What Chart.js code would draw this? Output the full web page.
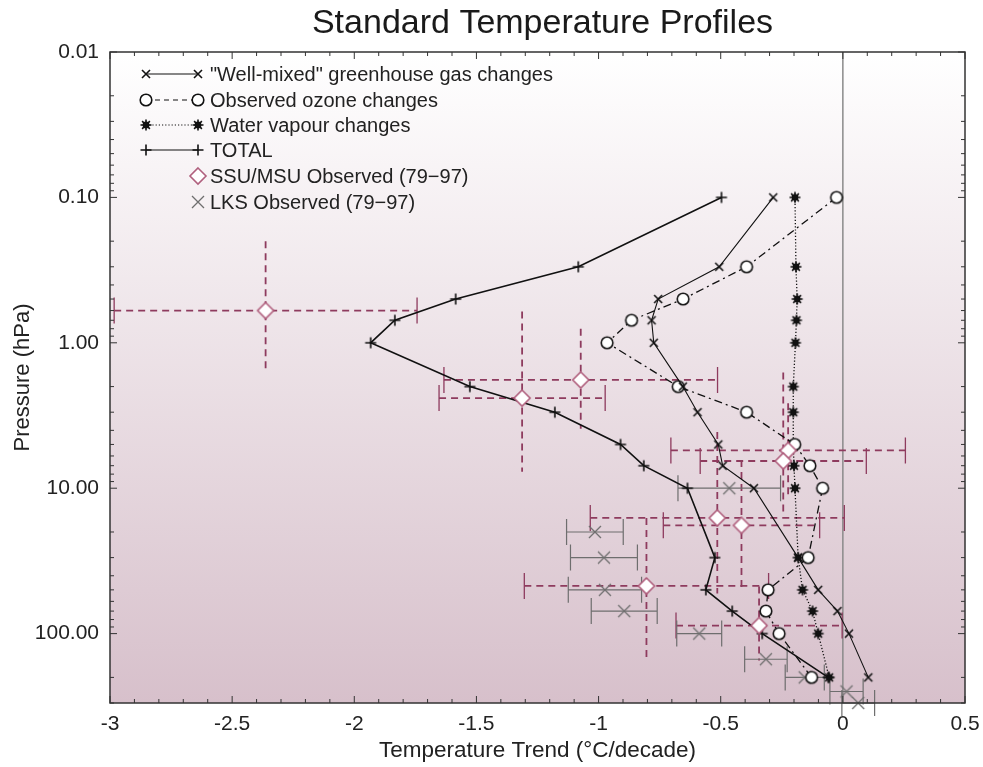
<!DOCTYPE html>
<html>
<head>
<meta charset="utf-8">
<script src="https://cdn.jsdelivr.net/npm/chart.js@4.4.1/dist/chart.umd.min.js"></script>
<style>
  html, body { margin: 0; padding: 0; background: #fff; }
  #wrap { width: 983px; height: 767px; }
</style>
</head>
<body>
<div id="wrap"><canvas id="profiles"></canvas></div>
<script>
// model levels (hPa) shared by the four model curves
const modelPress = [0.1, 0.3, 0.5, 0.7, 1, 2, 3, 5, 7, 10, 30, 50, 70, 100, 200];
const ghgTrend = [-0.285, -0.506, -0.756, -0.783, -0.774, -0.655, -0.595, -0.51, -0.492, -0.364, -0.183, -0.101, -0.022, 0.025, 0.104];
const ozoneTrend = [-0.026, -0.394, -0.654, -0.865, -0.965, -0.674, -0.394, -0.197, -0.135, -0.083, -0.142, -0.306, -0.315, -0.261, -0.128];
const vapourTrend = [-0.196, -0.192, -0.187, -0.19, -0.194, -0.203, -0.203, -0.203, -0.2, -0.196, -0.183, -0.165, -0.124, -0.101, -0.056];
const totalTrend = [-0.497, -1.083, -1.585, -1.834, -1.933, -1.527, -1.179, -0.91, -0.815, -0.636, -0.524, -0.561, -0.453, -0.33, -0.06];

// SSU/MSU observations with error ranges
const ssuPress = [0.6, 1.8, 2.4, 5.5, 6.5, 16, 18, 47, 88];
const ssuTrend = [-2.363, -1.073, -1.313, -0.224, -0.244, -0.514, -0.415, -0.804, -0.343];
const ssuTrendErr = [0.62, 0.56, 0.34, 0.48, 0.34, 0.52, 0.32, 0.5, 0.34];
const ssuPressLow = [0.2, 0.8, 0.61, 2.6, 1.6, 4.1, 6.4, 16, 47.5];
const ssuPressHigh = [1.6, 3.9, 7.7, 11.5, 15, 53, 50, 157, 153];

// LKS radiosonde observations
const lksPress = [10, 20, 30, 50, 70, 100, 150, 200, 250, 300];
const lksTrend = [-0.465, -1.015, -0.978, -0.974, -0.895, -0.588, -0.315, -0.156, 0.015, 0.063];
const lksTrendErr = [0.21, 0.116, 0.137, 0.15, 0.135, 0.092, 0.087, 0.08, 0.068, 0.067];

const xTicks = [-3, -2.5, -2, -1.5, -1, -0.5, 0, 0.5];
const yTicks = [0.01, 0.1, 1, 10, 100];

const FONT = '"Liberation Sans", Arial, Helvetica, sans-serif';
const SSU_COLOR = '#8e3b5e';
const LKS_COLOR = '#6e6e6e';

const pts = (xs, ys) => xs.map((x, i) => ({x: x, y: ys[i]}));

// little canvases used as point styles (and again in the legend)
function marker(kind) {
  const c = document.createElement('canvas');
  c.width = 22; c.height = 22;
  const g = c.getContext('2d');
  const m = 11;
  switch (kind) {
    case 'x':
      g.strokeStyle = '#111'; g.lineWidth = 1.6;
      g.beginPath();
      g.moveTo(m - 4, m - 4); g.lineTo(m + 4, m + 4);
      g.moveTo(m + 4, m - 4); g.lineTo(m - 4, m + 4);
      g.stroke();
      break;
    case 'o':
      g.fillStyle = '#fff'; g.strokeStyle = '#111'; g.lineWidth = 1.6;
      g.beginPath(); g.arc(m, m, 5.8, 0, Math.PI * 2); g.fill(); g.stroke();
      break;
    case 'star':
      g.fillStyle = '#111'; g.strokeStyle = '#111'; g.lineWidth = 1.6;
      g.beginPath(); g.arc(m, m, 3.4, 0, Math.PI * 2); g.fill();
      g.beginPath();
      for (let k = 0; k < 8; k++) {
        const a = k * Math.PI / 4;
        g.moveTo(m, m); g.lineTo(m + 5.5 * Math.cos(a), m + 5.5 * Math.sin(a));
      }
      g.stroke();
      break;
    case '+':
      g.strokeStyle = '#111'; g.lineWidth = 1.6;
      g.beginPath();
      g.moveTo(m - 5.5, m); g.lineTo(m + 5.5, m);
      g.moveTo(m, m - 5.5); g.lineTo(m, m + 5.5);
      g.stroke();
      break;
    case 'diamond':
      g.fillStyle = '#fff'; g.strokeStyle = '#b0607e'; g.lineWidth = 1.6;
      g.beginPath();
      g.moveTo(m, m - 8); g.lineTo(m + 8, m); g.lineTo(m, m + 8); g.lineTo(m - 8, m); g.closePath();
      g.fill(); g.stroke();
      break;
    case 'X':
      g.strokeStyle = LKS_COLOR; g.lineWidth = 1.3;
      g.beginPath();
      g.moveTo(m - 6, m - 6); g.lineTo(m + 6, m + 6);
      g.moveTo(m + 6, m - 6); g.lineTo(m - 6, m + 6);
      g.stroke();
      break;
  }
  return c;
}

const mk = {
  x: marker('x'), o: marker('o'), star: marker('star'),
  plus: marker('+'), diamond: marker('diamond'), X: marker('X')
};

// pink-ish fade inside the frame
const backdrop = {
  id: 'backdrop',
  beforeDraw(chart) {
    const {ctx, chartArea: a} = chart;
    const grad = ctx.createLinearGradient(0, a.top, 0, a.bottom);
    grad.addColorStop(0, '#ffffff');
    grad.addColorStop(1, '#d7c0cb');
    ctx.save();
    ctx.fillStyle = grad;
    ctx.fillRect(a.left, a.top, a.right - a.left, a.bottom - a.top);
    ctx.restore();
  }
};

// zero line + error bars, under the markers
const errorBars = {
  id: 'errorBars',
  beforeDatasetsDraw(chart) {
    const {ctx, chartArea: a, scales: {x, y}} = chart;
    ctx.save();
    ctx.strokeStyle = '#8a8a8a';
    ctx.lineWidth = 1.5;
    ctx.beginPath();
    ctx.moveTo(x.getPixelForValue(0), a.top);
    ctx.lineTo(x.getPixelForValue(0), a.bottom);
    ctx.stroke();

    // SSU/MSU, dashed both ways
    ctx.strokeStyle = SSU_COLOR;
    ssuTrend.forEach((t, i) => {
      const py = y.getPixelForValue(ssuPress[i]);
      const px = x.getPixelForValue(t);
      const x0 = x.getPixelForValue(t - ssuTrendErr[i]);
      const x1 = x.getPixelForValue(t + ssuTrendErr[i]);
      ctx.lineWidth = 1.8;
      ctx.setLineDash([7, 5]);
      ctx.beginPath();
      ctx.moveTo(x0, py); ctx.lineTo(x1, py);
      ctx.moveTo(px, y.getPixelForValue(ssuPressLow[i]));
      ctx.lineTo(px, y.getPixelForValue(ssuPressHigh[i]));
      ctx.stroke();
      ctx.setLineDash([]);
      ctx.lineWidth = 1.3;
      ctx.beginPath();
      ctx.moveTo(x0, py - 13); ctx.lineTo(x0, py + 13);
      ctx.moveTo(x1, py - 13); ctx.lineTo(x1, py + 13);
      ctx.stroke();
    });

    // LKS, solid horizontal bars
    ctx.strokeStyle = LKS_COLOR;
    ctx.lineWidth = 1.2;
    lksTrend.forEach((t, i) => {
      const py = y.getPixelForValue(lksPress[i]);
      const x0 = x.getPixelForValue(t - lksTrendErr[i]);
      const x1 = x.getPixelForValue(t + lksTrendErr[i]);
      ctx.beginPath();
      ctx.moveTo(x0, py); ctx.lineTo(x1, py);
      ctx.moveTo(x0, py - 13); ctx.lineTo(x0, py + 13);
      ctx.moveTo(x1, py - 13); ctx.lineTo(x1, py + 13);
      ctx.stroke();
    });
    ctx.restore();
  }
};

// title, frame, inward minor ticks and the legend box
const frameAndLegend = {
  id: 'frameAndLegend',
  afterDraw(chart) {
    const {ctx, chartArea: a, scales: {x, y}} = chart;
    ctx.save();
    ctx.fillStyle = '#1a1a1a';
    ctx.font = '34px ' + FONT;
    ctx.textAlign = 'center';
    ctx.textBaseline = 'middle';
    ctx.fillText('Standard Temperature Profiles', (a.left + a.right) / 2 + 5, 24);

    ctx.strokeStyle = '#333';
    ctx.lineWidth = 1.5;
    ctx.strokeRect(a.left, a.top, a.right - a.left, a.bottom - a.top);

    ctx.lineWidth = 1;
    ctx.beginPath();
    for (let k = -30; k <= 5; k++) {
      const px = x.getPixelForValue(k / 10);
      const len = k % 5 === 0 ? 7 : 4;
      ctx.moveTo(px, a.top); ctx.lineTo(px, a.top + len);
      ctx.moveTo(px, a.bottom); ctx.lineTo(px, a.bottom - len);
    }
    for (let d = -2; d <= 2; d++) {
      for (let m = 1; m <= 9; m++) {
        const v = m * Math.pow(10, d);
        if (v > 300) continue;
        const py = y.getPixelForValue(v);
        const len = m === 1 ? 7 : 4;
        ctx.moveTo(a.left, py); ctx.lineTo(a.left + len, py);
        ctx.moveTo(a.right, py); ctx.lineTo(a.right - len, py);
      }
    }
    ctx.stroke();

    // legend
    const rows = [
      {y: 74, img: mk.x, dash: [], text: '"Well-mixed" greenhouse gas changes'},
      {y: 100, img: mk.o, dash: [5, 4], text: 'Observed ozone changes'},
      {y: 125, img: mk.star, dash: [1.2, 2], text: 'Water vapour changes'},
      {y: 150, img: mk.plus, dash: [], text: 'TOTAL'},
      {y: 176, img: mk.diamond, single: true, text: 'SSU/MSU Observed (79\u221297)'},
      {y: 202, img: mk.X, single: true, text: 'LKS Observed (79\u221297)'}
    ];
    const xa = 146, xb = 198;
    ctx.font = '20px ' + FONT;
    ctx.textAlign = 'left';
    ctx.textBaseline = 'middle';
    ctx.fillStyle = '#222';
    rows.forEach(r => {
      if (!r.single) {
        ctx.strokeStyle = '#111';
        ctx.lineWidth = 1.2;
        ctx.setLineDash(r.dash);
        ctx.beginPath();
        ctx.moveTo(xa, r.y); ctx.lineTo(xb, r.y);
        ctx.stroke();
        ctx.setLineDash([]);
        ctx.drawImage(r.img, xa - 11, r.y - 11);
      }
      ctx.drawImage(r.img, xb - 11, r.y - 11);
      ctx.fillText(r.text, 210, r.y + 1);
    });
    ctx.restore();
  }
};

const lineSet = (label, data, style, dash, width) => ({
  label: label,
  data: data,
  showLine: true,
  borderColor: '#111',
  borderWidth: width,
  borderDash: dash,
  pointStyle: style,
  pointRadius: 6,
  tension: 0,
  fill: false
});

new Chart(document.getElementById('profiles'), {
  type: 'scatter',
  data: {
    datasets: [
      {
        label: 'SSU/MSU Observed (79-97)',
        data: pts(ssuTrend, ssuPress),
        pointStyle: mk.diamond,
        pointRadius: 8,
        showLine: false
      },
      lineSet('TOTAL', pts(totalTrend, modelPress), mk.plus, [], 1.6),
      lineSet('"Well-mixed" greenhouse gas changes', pts(ghgTrend, modelPress), mk.x, [], 1.1),
      lineSet('Observed ozone changes', pts(ozoneTrend, modelPress), mk.o, [8, 4, 2, 4], 1.3),
      lineSet('Water vapour changes', pts(vapourTrend, modelPress), mk.star, [1.2, 2], 1.3),
      {
        label: 'LKS Observed (79-97)',
        data: pts(lksTrend, lksPress),
        pointStyle: mk.X,
        pointRadius: 7,
        showLine: false,
        clip: false
      }
    ]
  },
  options: {
    responsive: true,
    maintainAspectRatio: false,
    animation: false,
    events: [],
    layout: {padding: {left: 0, right: 18, top: 52, bottom: 0}},
    plugins: {
      legend: {display: false},
      tooltip: {enabled: false},
      title: {display: false}
    },
    scales: {
      x: {
        type: 'linear',
        min: -3,
        max: 0.5,
        afterBuildTicks: s => { s.ticks = xTicks.map(v => ({value: v})); },
        afterFit: s => { s.height = 64; s.paddingLeft = 0; s.paddingRight = 0; },
        grid: {display: false, drawTicks: false},
        border: {display: false},
        ticks: {
          color: '#222',
          padding: 9,
          maxRotation: 0,
          font: {family: FONT, size: 21},
          callback: v => String(v)
        },
        title: {
          display: true,
          text: 'Temperature Trend (\u00b0C/decade)',
          color: '#222',
          font: {family: FONT, size: 22.5},
          padding: {top: 0, bottom: 3}
        }
      },
      y: {
        type: 'logarithmic',
        min: 0.01,
        max: 300,
        reverse: true,
        afterBuildTicks: s => { s.ticks = yTicks.map(v => ({value: v})); },
        afterFit: s => { s.width = 110; s.paddingTop = 0; s.paddingBottom = 0; },
        grid: {display: false, drawTicks: false},
        border: {display: false},
        ticks: {
          color: '#222',
          padding: 11,
          font: {family: FONT, size: 21},
          callback: v => Number(v).toFixed(2)
        },
        title: {
          display: true,
          text: 'Pressure (hPa)',
          color: '#222',
          font: {family: FONT, size: 22},
          padding: {top: 10, bottom: 0}
        }
      }
    }
  },
  plugins: [backdrop, errorBars, frameAndLegend]
});
</script>
</body>
</html>
